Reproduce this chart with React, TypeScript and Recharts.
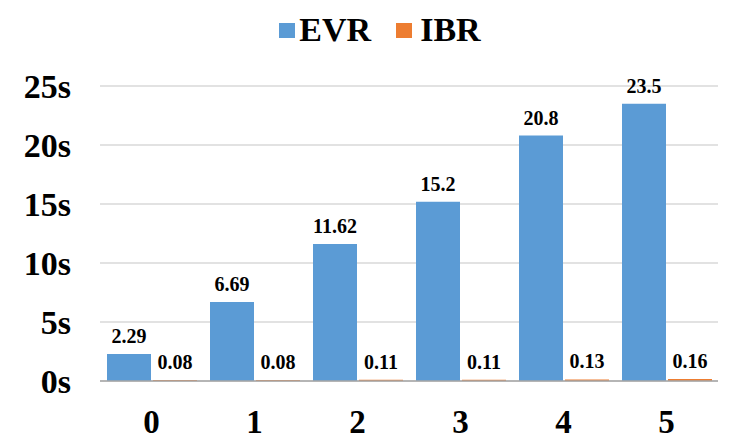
import React from 'react';
import { BarChart, Bar, XAxis, YAxis, CartesianGrid, Legend, LabelList } from 'recharts';

const categories = ['0', '1', '2', '3', '4', '5'];
const evrValues = [2.29, 6.69, 11.62, 15.2, 20.8, 23.5];
const ibrValues = [0.08, 0.08, 0.11, 0.11, 0.13, 0.16];
const yTicks = [0, 5, 10, 15, 20, 25];

const data = categories.map((c, i) => ({ name: c, EVR: evrValues[i], IBR: ibrValues[i] }));

const FONT = "'Liberation Serif', 'Times New Roman', serif";
const BLUE = '#5B9BD5';
const ORANGE = '#ED7D31';

// legend drawn by hand so the squares and gaps match the original
const renderLegend = () => (
  <div style={{ display: 'flex', justifyContent: 'center', alignItems: 'center', paddingLeft: 13, fontFamily: FONT, fontWeight: 'bold', fontSize: 34, color: '#000' }}>
    <span style={{ display: 'inline-block', width: 16, height: 15, background: BLUE, marginRight: 4 }} />
    <span style={{ marginRight: 25 }}>EVR</span>
    <span style={{ display: 'inline-block', width: 16, height: 15, background: ORANGE, marginRight: 8 }} />
    <span>IBR</span>
  </div>
);

const App: React.FC = () => {
  return (
    <div style={{ position: 'absolute', left: 0, top: 0, width: 747, height: 447, background: '#fff', fontFamily: FONT }}>
      <BarChart
        width={747}
        height={447}
        data={data}
        margin={{ top: 10, right: 29, left: 0, bottom: 14 }}
        barSize={44}
        barGap={2}
        style={{ fontFamily: FONT }}
      >
        <CartesianGrid vertical={false} stroke="#d9d9d9" strokeWidth={1.5} />
        <XAxis
          dataKey="name"
          axisLine={{ stroke: '#a6a6a6', strokeWidth: 1.5 }}
          tickLine={false}
          height={52}
          tickMargin={23}
          tick={{ fontFamily: FONT, fontWeight: 'bold', fontSize: 33, fill: '#000' }}
        />
        <YAxis
          width={100}
          domain={[0, 25]}
          ticks={yTicks}
          axisLine={false}
          tickLine={false}
          tickMargin={23}
          tickFormatter={(v: number) => `${v}s`}
          tick={{ fontFamily: FONT, fontWeight: 'bold', fontSize: 34, fill: '#000' }}
        />
        <Legend verticalAlign="top" content={renderLegend} wrapperStyle={{ left: 0, width: 747, top: 11 }} height={76} />
        <Bar dataKey="EVR" fill={BLUE} isAnimationActive={false}>
          <LabelList dataKey="EVR" position="top" offset={11} style={{ fontFamily: FONT, fontWeight: 'bold', fontSize: 20, fill: '#000' }} />
        </Bar>
        <Bar dataKey="IBR" fill={ORANGE} isAnimationActive={false}>
          <LabelList dataKey="IBR" position="top" offset={11} style={{ fontFamily: FONT, fontWeight: 'bold', fontSize: 20, fill: '#000' }} />
        </Bar>
      </BarChart>
    </div>
  );
};

export default App;
